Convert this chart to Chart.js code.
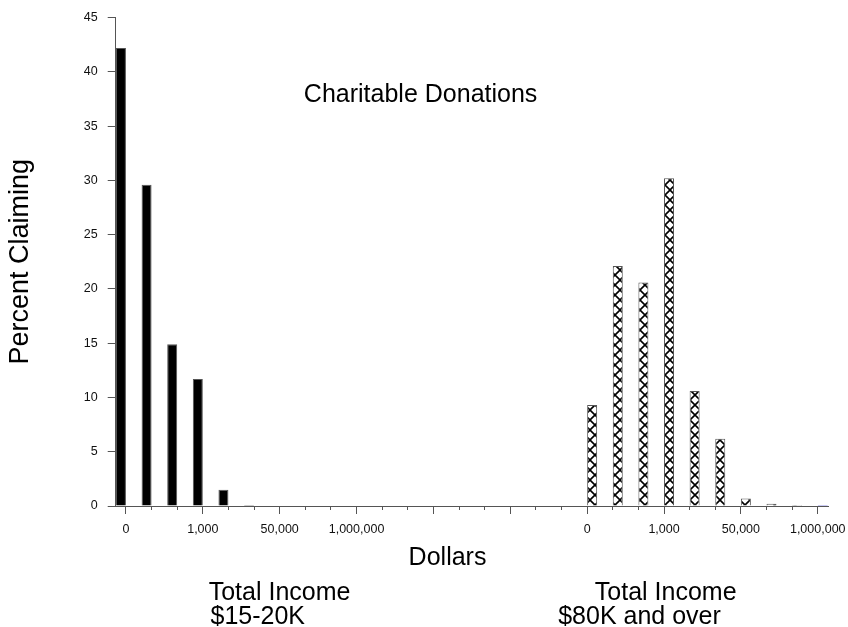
<!DOCTYPE html>
<html>
<head>
<meta charset="utf-8">
<style>
  html, body { margin: 0; padding: 0; background: #fff; }
  #wrap { width: 848px; height: 627px; }
</style>
<script src="https://cdn.jsdelivr.net/npm/chart.js@4/dist/chart.umd.min.js"></script>
</head>
<body>
<div id="wrap"><canvas id="donations"></canvas></div>
<script>
// Dollar brackets along the x axis: two income groups share one axis
const slotLabels = [
  '0', '', '', '1,000', '', '', '50,000', '', '', '1,000,000',
  '', '', '', '', '', '', '', '',
  '0', '', '', '1,000', '', '', '50,000', '', '', '1,000,000'
];

// Percent claiming, $15-20K income (left group)
const lowIncome = [42.2, 29.6, 14.9, 11.7, 1.5, 0.05, null, null, null, null,
  null, null, null, null, null, null, null, null,
  null, null, null, null, null, null, null, null, null, null];

// Percent claiming, $80K and over (right group)
const highIncome = [null, null, null, null, null, null, null, null, null, null,
  null, null, null, null, null, null, null, null,
  9.3, 22.1, 20.6, 30.2, 10.6, 6.2, 0.7, 0.2, 0.05, 0.02];

const yTicks = [0, 5, 10, 15, 20, 25, 30, 35, 40, 45];

const FONT = '"Liberation Sans", Arial, Helvetica, sans-serif';

// cross-hatch fill for the high income bars
function crossHatch() {
  const c = document.createElement('canvas');
  c.width = 10; c.height = 10;
  const g = c.getContext('2d');
  g.fillStyle = '#fff';
  g.fillRect(0, 0, 10, 10);
  g.strokeStyle = '#000';
  g.lineWidth = 1.6;
  g.beginPath();
  g.moveTo(0, 0); g.lineTo(10, 10);
  g.moveTo(10, 0); g.lineTo(0, 10);
  g.stroke();
  return g.createPattern(c, 'repeat');
}

const toPoints = arr => arr.map((v, i) => ({ x: i, y: v }));

// extra labels inside / under the plot
const notesPlugin = {
  id: 'notes',
  afterDraw(chart) {
    const { ctx, chartArea, scales: { x, y } } = chart;
    ctx.save();
    ctx.fillStyle = '#000';
    ctx.font = '25px ' + FONT;
    ctx.textBaseline = 'alphabetic';

    ctx.textAlign = 'center';
    ctx.fillText('Charitable Donations', x.getPixelForValue(11.5), y.getPixelForValue(37.2));
    ctx.fillText('Dollars', x.getPixelForValue(12.55), chartArea.bottom + 59);

    ctx.textAlign = 'left';
    ctx.fillText('Total Income', x.getPixelForValue(3.23), chartArea.bottom + 94);
    ctx.fillText('$15-20K', x.getPixelForValue(3.3), chartArea.bottom + 118);
    ctx.fillText('Total Income', x.getPixelForValue(18.3), chartArea.bottom + 94);
    ctx.fillText('$80K and over', x.getPixelForValue(16.87), chartArea.bottom + 118);
    ctx.restore();
  }
};

const lastSlot = slotLabels.length - 1;

new Chart(document.getElementById('donations'), {
  type: 'bar',
  data: {
    datasets: [
      {
        label: 'Total Income $15-20K',
        data: toPoints(lowIncome),
        backgroundColor: '#000',
        borderColor: '#555',
        borderWidth: 1
      },
      {
        label: 'Total Income $80K and over',
        data: toPoints(highIncome),
        backgroundColor: highIncome.map((v, i) => i === lastSlot ? '#2020d0' : crossHatch()),
        borderColor: highIncome.map((v, i) => i === lastSlot ? '#2020d0' : '#555'),
        borderWidth: 1
      }
    ]
  },
  options: {
    responsive: true,
    maintainAspectRatio: false,
    animation: false,
    categoryPercentage: 0.78,
    barPercentage: 1.0,
    minBarLength: 1,
    layout: { padding: { left: 0, top: 16, right: 20, bottom: 82 } },
    plugins: {
      legend: { display: false },
      tooltip: { enabled: false }
    },
    scales: {
      x: {
        type: 'linear',
        offset: false,
        min: -0.4,
        max: lastSlot + 0.4,
        afterBuildTicks: axis => {
          axis.ticks = slotLabels.map((l, i) => ({ value: i }));
        },
        // the last label may overhang the plot, the layout padding covers it
        afterFit: axis => { axis.paddingRight = 0; },
        grid: {
          offset: false,
          drawOnChartArea: false,
          tickLength: 8,
          tickColor: '#555',
          // short ticks between the labelled ones
          tickBorderDash: c => (c.tick && c.tick.value % 3 !== 0) ? [3, 30] : []
        },
        border: { color: '#555' },
        ticks: {
          autoSkip: false,
          maxRotation: 0,
          padding: 8,
          color: '#111',
          font: { family: FONT, size: 12.5 },
          callback: v => slotLabels[v] ?? ''
        }
      },
      y: {
        min: 0,
        max: 45,
        afterBuildTicks: axis => {
          axis.ticks = yTicks.map(v => ({ value: v }));
        },
        grid: { drawOnChartArea: false, tickLength: 8, tickColor: '#555' },
        border: { color: '#555' },
        ticks: {
          padding: 10,
          color: '#111',
          font: { family: FONT, size: 12.5 }
        },
        title: {
          display: true,
          text: 'Percent Claiming',
          color: '#000',
          font: { family: FONT, size: 27 },
          padding: { top: 4, bottom: 37.4 }
        }
      }
    }
  },
  plugins: [notesPlugin]
});
</script>
</body>
</html>
